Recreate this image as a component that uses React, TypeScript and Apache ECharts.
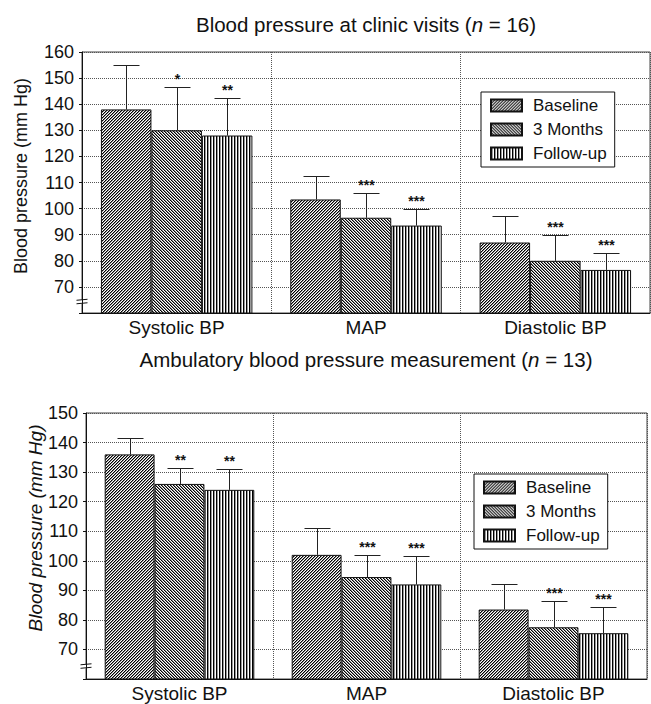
import React, { useEffect, useRef } from 'react';
import * as echarts from 'echarts';

// ---------- data ----------
const categories = ['Systolic BP', 'MAP', 'Diastolic BP'];
const seriesNames = ['Baseline', '3 Months', 'Follow-up'];

// Blood pressure at clinic visits (n = 16): means and SD (mm Hg)
const clinicBaseline = [138, 103.5, 87];
const clinic3Months = [130, 96.5, 80];
const clinicFollowUp = [128, 93.5, 76.5];
const clinicBaselineSD = [17, 9, 10];
const clinic3MonthsSD = [16.5, 9.5, 10];
const clinicFollowUpSD = [14.5, 6.5, 6.5];
const clinicBaselineSig = ['', '', ''];
const clinic3MonthsSig = ['*', '***', '***'];
const clinicFollowUpSig = ['**', '***', '***'];

// Ambulatory blood pressure measurement (n = 13)
const ambBaseline = [136, 102, 83.5];
const amb3Months = [126, 94.5, 77.5];
const ambFollowUp = [124, 92, 75.5];
const ambBaselineSD = [5.5, 9, 8.5];
const amb3MonthsSD = [5.5, 7.5, 9];
const ambFollowUpSD = [7, 9.5, 9];
const ambBaselineSig = ['', '', ''];
const amb3MonthsSig = ['**', '***', '***'];
const ambFollowUpSig = ['**', '***', '***'];

// y axis ticks
const clinicAxis = { min: 60, max: 160, interval: 10 };
const ambAxis = { min: 60, max: 150, interval: 10 };
const axisBreakValue = 64.3;
const yAxisTitle = 'Blood pressure (mm Hg)';

// ---------- styling / layout ----------
const FONT = 'Liberation Sans, Arial, Helvetica, sans-serif';
const INK = '#111';
const G1 = { left: 82, right: 1, top: 52, height: 261 };
const G2 = { left: 86, right: 4, top: 413, height: 266 };

function hatchTile(size: number, fn: (x: number, y: number) => string | null) {
  const c = document.createElement('canvas');
  c.width = size;
  c.height = size;
  const ctx = c.getContext('2d')!;
  ctx.fillStyle = '#fff';
  ctx.fillRect(0, 0, size, size);
  for (let y = 0; y < size; y++) {
    for (let x = 0; x < size; x++) {
      const col = fn(x, y);
      if (col) {
        ctx.fillStyle = col;
        ctx.fillRect(x, y, 1, 1);
      }
    }
  }
  return { image: c.toDataURL(), imageWidth: size, imageHeight: size, repeat: 'repeat' };
}

function makePatterns() {
  const forward = hatchTile(3, (x, y) => {
    const k = (x + y) % 3;
    return k === 0 ? '#000' : k === 1 ? '#8a8a8a' : null;
  });
  const backward = hatchTile(3, (x, y) => {
    const k = (x - y + 30) % 3;
    return k === 0 ? '#000' : k === 1 ? '#8a8a8a' : null;
  });
  const vertical = hatchTile(3, (x) => (x === 0 ? '#000' : x === 1 ? '#9a9a9a' : null));
  return [forward, backward, vertical];
}

function buildErrData(means: number[][], sds: number[][], sigs: string[][]) {
  const data: number[][] = [];
  const sigList: string[] = [];
  means.forEach((m, s) => {
    m.forEach((v, i) => {
      data.push([i, v, v + sds[s][i], s]);
      sigList.push(sigs[s][i]);
    });
  });
  return { data, sigList };
}

function makeRenderItem(sigList: string[]) {
  return (params: any, api: any) => {
    const cat = api.value(0);
    const mean = api.value(1);
    const upper = api.value(2);
    const s = api.value(3);
    const band = api.size([1, 0])[0];
    const barW = (band * 0.8) / 3;
    const base = api.coord([cat, mean]);
    const top = api.coord([cat, upper]);
    const cx = Math.round(base[0] + (s - 1) * barW) + 0.5;
    const ty = Math.round(top[1]) + 0.5;
    const cap = 13;
    const children: any[] = [
      { type: 'line', shape: { x1: cx, y1: base[1], x2: cx, y2: ty }, style: { stroke: '#222', lineWidth: 1 } },
      { type: 'line', shape: { x1: cx - cap, y1: ty, x2: cx + cap, y2: ty }, style: { stroke: '#222', lineWidth: 1 } },
    ];
    const sig = sigList[params.dataIndex];
    if (sig) {
      children.push({
        type: 'text',
        x: cx,
        y: ty - 2,
        style: {
          text: sig,
          fill: INK,
          fontSize: 14,
          fontWeight: 'bold',
          fontFamily: FONT,
          align: 'center',
          verticalAlign: 'bottom',
        },
      });
    }
    return { type: 'group', children };
  };
}

function yAxisCfg(gridIndex: number, ax: { min: number; max: number; interval: number }) {
  return {
    type: 'value',
    gridIndex,
    min: ax.min,
    max: ax.max,
    interval: ax.interval,
    axisLine: { show: true, lineStyle: { color: INK, width: 1 } },
    axisTick: { show: true, length: 3, lineStyle: { color: INK } },
    axisLabel: {
      fontSize: 18,
      color: INK,
      fontFamily: FONT,
      margin: 8,
      formatter: (v: number) => (v === ax.min ? '' : String(v)),
    },
    splitLine: { show: true, lineStyle: { type: 'dotted', color: '#555', width: 1 } },
  };
}

function xAxisCfg(gridIndex: number) {
  return {
    type: 'category',
    gridIndex,
    data: categories,
    axisLine: { show: true, lineStyle: { color: INK, width: 1 } },
    axisTick: { show: false },
    axisLabel: { fontSize: 19, color: INK, fontFamily: FONT, margin: 5 },
    splitLine: { show: true, lineStyle: { type: 'dotted', color: '#555', width: 1 } },
  };
}

function legendCfg(left: number, top: number) {
  return {
    data: seriesNames,
    orient: 'vertical',
    left,
    top,
    itemWidth: 31,
    itemHeight: 12,
    itemGap: 7,
    padding: [5, 8, 5, 9],
    backgroundColor: '#fff',
    borderColor: INK,
    borderWidth: 1,
    borderRadius: 0,
    icon: 'rect',
    textStyle: { fontSize: 17, color: INK, fontFamily: FONT, padding: [0, 0, 0, 6] },
  };
}

function titleCfg(main: string, n: string, top: number) {
  return {
    text: `{a|${main} (}{i|n}{a| = ${n})}`,
    left: 361,
    top,
    textAlign: 'center',
    textStyle: {
      fontSize: 20.5,
      fontWeight: 'normal',
      color: INK,
      fontFamily: FONT,
      rich: {
        a: { fontSize: 20.5, color: INK, fontFamily: FONT },
        i: { fontSize: 20.5, color: INK, fontFamily: FONT, fontStyle: 'italic' },
      },
    },
  };
}

export default function App() {
  const ref = useRef<HTMLDivElement>(null);

  useEffect(() => {
    if (!ref.current) return;
    const chart = echarts.init(ref.current, undefined, { renderer: 'svg' });
    const patterns = makePatterns();

    const clinicMeans = [clinicBaseline, clinic3Months, clinicFollowUp];
    const ambMeans = [ambBaseline, amb3Months, ambFollowUp];
    const clinicErr = buildErrData(clinicMeans, [clinicBaselineSD, clinic3MonthsSD, clinicFollowUpSD], [clinicBaselineSig, clinic3MonthsSig, clinicFollowUpSig]);
    const ambErr = buildErrData(ambMeans, [ambBaselineSD, amb3MonthsSD, ambFollowUpSD], [ambBaselineSig, amb3MonthsSig, ambFollowUpSig]);

    const barSeries = (means: number[][], idx: number) =>
      means.map((vals, s) => ({
        type: 'bar',
        name: seriesNames[s],
        xAxisIndex: idx,
        yAxisIndex: idx,
        data: vals,
        barGap: '0%',
        barCategoryGap: '20%',
        itemStyle: { color: patterns[s], borderColor: INK, borderWidth: 1 },
        emphasis: { disabled: true },
      }));

    chart.setOption({
      animation: false,
      backgroundColor: '#fff',
      textStyle: { fontFamily: FONT },
      title: [titleCfg('Blood pressure at clinic visits', '16', 9), titleCfg('Ambulatory blood pressure measurement', '13', 344)],
      legend: [legendCfg(481, 92), legendCfg(474, 474)],
      grid: [
        { ...G1, show: true, borderColor: '#444', borderWidth: 1, backgroundColor: 'transparent' },
        { ...G2, show: true, borderColor: '#444', borderWidth: 1, backgroundColor: 'transparent' },
      ],
      xAxis: [xAxisCfg(0), xAxisCfg(1)],
      yAxis: [yAxisCfg(0, clinicAxis), yAxisCfg(1, ambAxis)],
      series: [
        ...barSeries(clinicMeans, 0),
        ...barSeries(ambMeans, 1),
        {
          type: 'custom',
          name: 'errClinic',
          xAxisIndex: 0,
          yAxisIndex: 0,
          data: clinicErr.data,
          renderItem: makeRenderItem(clinicErr.sigList),
          z: 5,
          silent: true,
        },
        {
          type: 'custom',
          name: 'errAmb',
          xAxisIndex: 1,
          yAxisIndex: 1,
          data: ambErr.data,
          renderItem: makeRenderItem(ambErr.sigList),
          z: 5,
          silent: true,
        },
      ],
    });

    // axis break marks on both y axes
    const breakMark = (ax: number, y: number) => ({
      type: 'group',
      z: 20,
      children: [
        { type: 'rect', shape: { x: ax - 2, y: y - 2, width: 4, height: 4 }, style: { fill: '#fff' } },
        { type: 'line', shape: { x1: ax - 6, y1: y - 1.5, x2: ax + 5, y2: y - 2.5 }, style: { stroke: INK, lineWidth: 1 } },
        { type: 'line', shape: { x1: ax - 6, y1: y + 2, x2: ax + 5, y2: y + 1 }, style: { stroke: INK, lineWidth: 1 } },
      ],
    });
    const axisTitle = (x: number, y: number, size: number, italic: boolean) => ({
      type: 'text',
      x,
      y,
      rotation: Math.PI / 2,
      style: {
        text: yAxisTitle,
        fill: INK,
        fontSize: size,
        fontFamily: FONT,
        fontStyle: italic ? 'italic' : 'normal',
        align: 'center',
        verticalAlign: 'middle',
      },
    });
    const y1 = chart.convertToPixel({ yAxisIndex: 0 }, axisBreakValue) as number;
    const y2 = chart.convertToPixel({ yAxisIndex: 1 }, axisBreakValue) as number;
    chart.setOption({
      graphic: [
        breakMark(G1.left + 0.5, y1),
        breakMark(G2.left + 0.5, y2),
        axisTitle(21, 176, 18, false),
        axisTitle(35, 528, 19, true),
      ],
    });

    return () => chart.dispose();
  }, []);

  return (
    <div
      ref={ref}
      style={{ position: 'fixed', left: 0, top: 0, width: 651, height: 704, background: '#fff' }}
    />
  );
}
